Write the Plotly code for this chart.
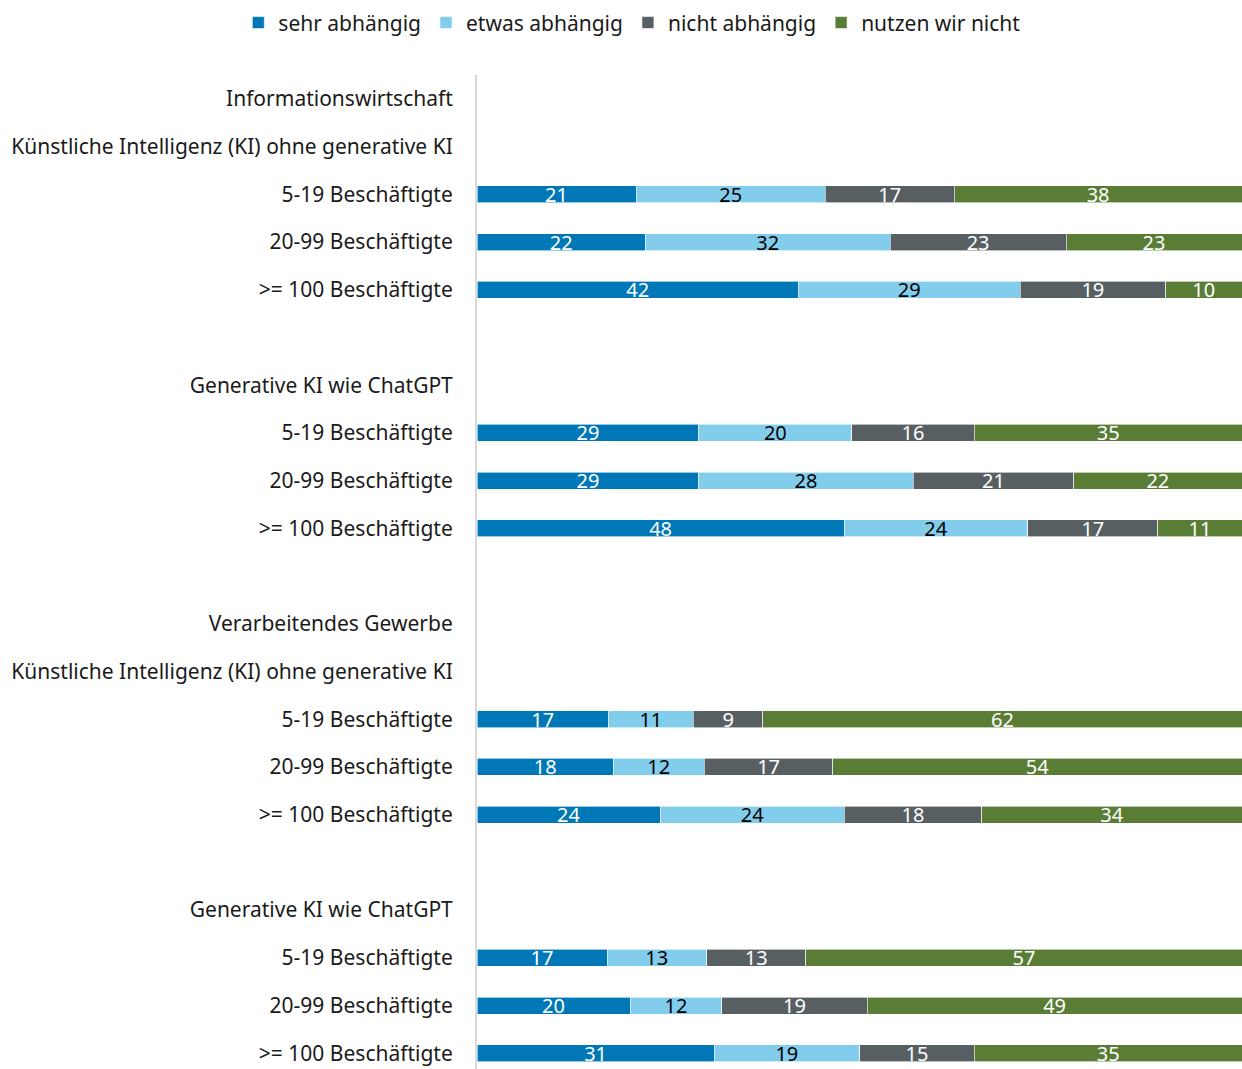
import plotly.graph_objects as go

row_labels = [
    "Informationswirtschaft",
    "Künstliche Intelligenz (KI) ohne generative KI",
    "5-19 Beschäftigte", "20-99 Beschäftigte", ">= 100 Beschäftigte",
    "",
    "Generative KI wie ChatGPT",
    "5-19 Beschäftigte", "20-99 Beschäftigte", ">= 100 Beschäftigte",
    "",
    "Verarbeitendes Gewerbe",
    "Künstliche Intelligenz (KI) ohne generative KI",
    "5-19 Beschäftigte", "20-99 Beschäftigte", ">= 100 Beschäftigte",
    "",
    "Generative KI wie ChatGPT",
    "5-19 Beschäftigte", "20-99 Beschäftigte", ">= 100 Beschäftigte",
]

N = None
sehr_abhaengig  = [N, N, 21, 22, 42, N, N, 29, 29, 48, N, N, N, 17, 18, 24, N, N, 17, 20, 31]
etwas_abhaengig = [N, N, 25, 32, 29, N, N, 20, 28, 24, N, N, N, 11, 12, 24, N, N, 13, 12, 19]
nicht_abhaengig = [N, N, 17, 23, 19, N, N, 16, 21, 17, N, N, N, 9, 17, 18, N, N, 13, 19, 15]
nutzen_nicht    = [N, N, 38, 23, 10, N, N, 35, 22, 11, N, N, N, 62, 54, 34, N, N, 57, 49, 35]

series = [
    ("sehr abhängig", sehr_abhaengig, "#0077B6", "white"),
    ("etwas abhängig", etwas_abhaengig, "#82CDEC", "black"),
    ("nicht abhängig", nicht_abhaengig, "#575F63", "white"),
    ("nutzen wir nicht", nutzen_nicht, "#5A7D36", "white"),
]

FONT = "Noto Sans"
ypos = list(range(len(row_labels)))

fig = go.Figure()
for name, vals, color, tcolor in series:
    fig.add_trace(go.Bar(
        y=ypos, x=vals, name=name, orientation="h",
        marker=dict(color=color, line=dict(color="white", width=0.6)),
        text=["" if v is None else str(v) for v in vals],
        textposition="inside", insidetextanchor="middle", textangle=0,
        constraintext="none", cliponaxis=False,
        insidetextfont=dict(family=FONT, size=20, color=tcolor),
        hoverinfo="skip",
    ))

fig.update_layout(
    barmode="stack", barnorm="percent", bargap=0.644,
    width=1242, height=1069,
    margin=dict(l=477, r=0, t=75, b=0),
    paper_bgcolor="white", plot_bgcolor="white",
    font=dict(family=FONT, size=21, color="#1a1a1a"),
    showlegend=True,
    legend=dict(orientation="h", x=-0.312, xanchor="left", y=1.073, yanchor="top",
                font=dict(family=FONT, size=21, color="#1a1a1a"),
                itemwidth=30, traceorder="normal"),
    xaxis=dict(range=[0, 100], visible=False, fixedrange=True),
    yaxis=dict(range=[20.33, -0.5], tickvals=ypos, ticktext=row_labels,
               showline=True, linecolor="#d9d9d9", linewidth=2,
               showgrid=False, zeroline=False, ticks="", ticklabelstandoff=18,
               tickfont=dict(family=FONT, size=21, color="#1a1a1a")),
)

fig.write_html("out.html")
